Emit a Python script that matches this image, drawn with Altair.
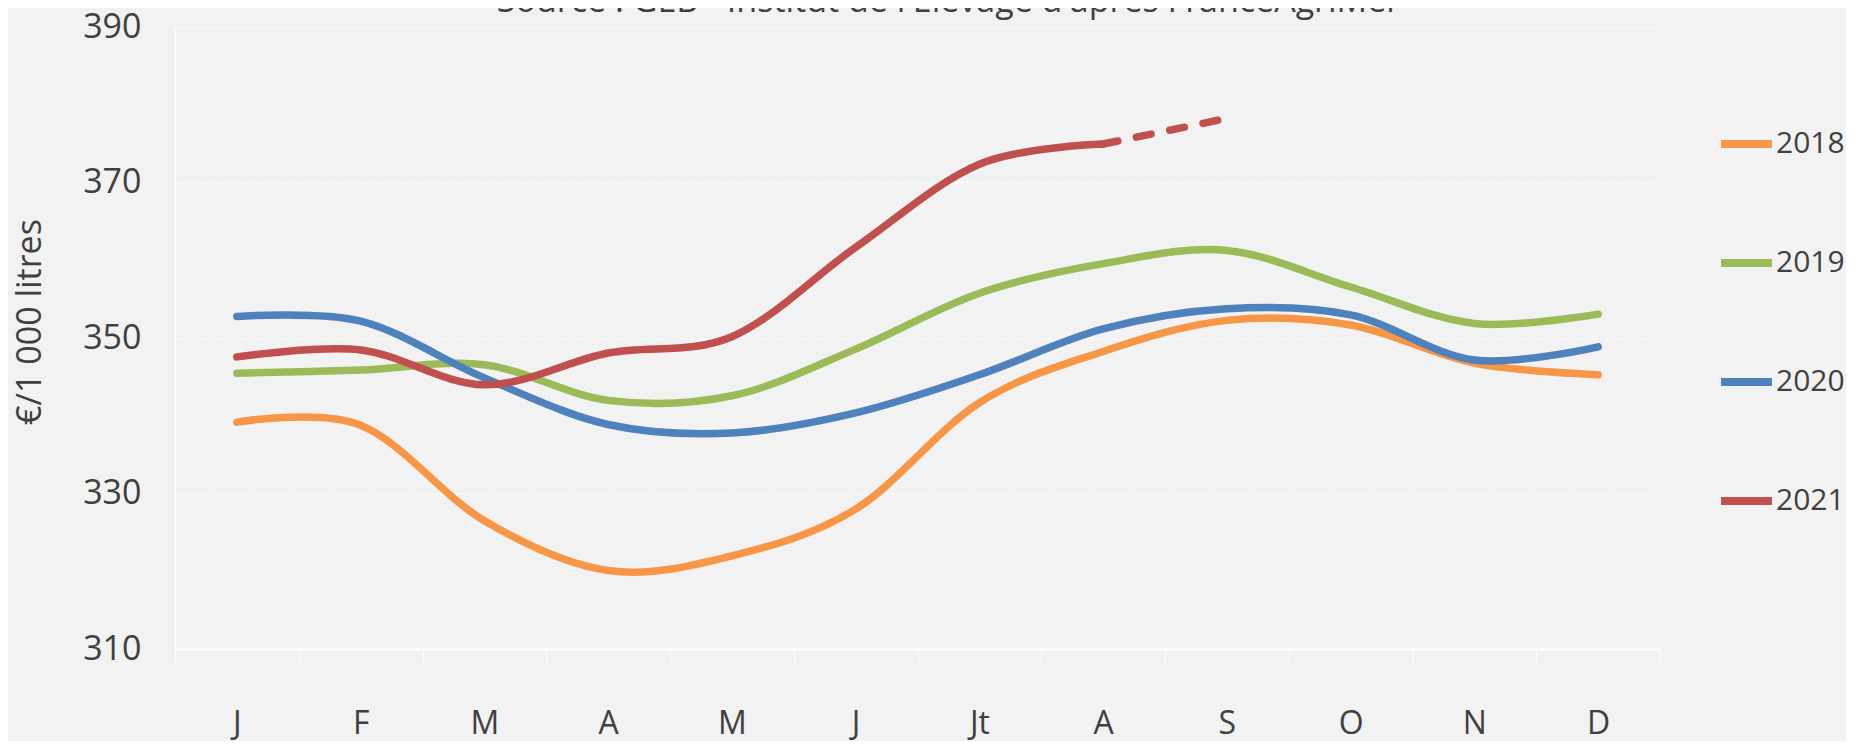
import altair as alt
import pandas as pd

# ---- data ----
months = ["janv", "févr", "mars", "avr", "mai", "juin", "juil", "août", "sept", "oct", "nov", "déc"]
month_labels = ["J", "F", "M", "A", "M", "J", "Jt", "A", "S", "O", "N", "D"]
years = ["2018", "2019", "2020", "2021"]
colors = ["#F79646", "#9BBB59", "#4F81BD", "#C0504D"]

v2018 = [339.2, 338.8, 326.5, 320.1, 322.0, 328.0, 341.7, 348.3, 352.3, 351.7, 346.8, 345.3]
v2019 = [345.5, 345.9, 346.6, 342.0, 342.6, 348.6, 355.8, 359.6, 361.3, 356.6, 351.9, 353.1]
v2020 = [352.8, 352.2, 344.9, 338.9, 337.8, 340.4, 345.3, 351.2, 353.8, 353.0, 347.2, 348.9]
v2021 = [347.6, 348.5, 344.0, 348.1, 350.2, 361.7, 372.4, 375.0]

est_months_2021 = ["août", "sept"]
est_2021 = [375.0, 378.3]

y_ticks = [310, 330, 350, 370, 390]

title_text = "Source : GEB - Institut de l'Elevage d'après FranceAgriMer"
y_title = "€/1 000 litres"

# ---- tables ----
rows = []
for yr, vals in zip(years, [v2018, v2019, v2020, v2021]):
    for m, v in zip(months, vals):
        rows.append({"mois": m, "annee": yr, "prix": v})
df = pd.DataFrame(rows)
df_est = pd.DataFrame({"mois": est_months_2021, "annee": ["2021"] * len(est_2021), "prix": est_2021})

label_expr = (
    "[" + ",".join("'%s'" % l for l in month_labels) + "]"
    + "[indexof([" + ",".join("'%s'" % m for m in months) + "], datum.value)]"
)

FONT = "Open Sans"
TXT = "#404040"

x_enc = alt.X(
    "mois:N",
    sort=months,
    bandPosition=0.5,
    scale=alt.Scale(type="band", domain=months, paddingInner=0, paddingOuter=0),
    axis=alt.Axis(
        title=None,
        labelExpr=label_expr,
        labelAngle=0,
        tickBand="extent",
        grid=False,
        domainColor="white",
        domainWidth=2,
        ticks=True,
        tickColor="white",
        tickWidth=1,
        tickSize=13,
        labelFont=FONT,
        labelFontSize=32,
        labelColor=TXT,
        labelBaseline="middle",
        labelPadding=61,
    ),
)

y_enc = alt.Y(
    "prix:Q",
    scale=alt.Scale(domain=[310, 390], zero=False, nice=False),
    axis=alt.Axis(
        values=y_ticks,
        title=y_title,
        grid=True,
        gridColor="white",
        gridDash=[3, 2],
        gridWidth=1,
        domain=True,
        domainColor="white",
        domainWidth=1,
        ticks=False,
        labelFont=FONT,
        labelFontSize=34,
        labelColor=TXT,
        labelPadding=34,
        titleFont=FONT,
        titleFontSize=34,
        titleFontWeight="normal",
        titleColor=TXT,
        titleAngle=270,
        titleX=-145,
        titleY=294,
        titleAlign="center",
        titleBaseline="middle",
    ),
)

color_scale = alt.Scale(domain=years, range=colors)

main = alt.Chart(df).mark_line(
    interpolate="cardinal", strokeWidth=7.5, strokeCap="round", strokeJoin="round"
).encode(
    x=x_enc,
    y=y_enc,
    color=alt.Color(
        "annee:N",
        scale=color_scale,
        legend=alt.Legend(
            title=None,
            orient="none",
            legendX=1542,
            legendY=87,
            symbolType="stroke",
            symbolSize=2601,
            symbolStrokeWidth=8,
            labelFont=FONT,
            labelFontSize=30,
            labelColor=TXT,
            labelOffset=0,
            rowPadding=73,
            padding=0,
        ),
    ),
    detail="annee:N",
)

dashed = alt.Chart(df_est).mark_line(
    strokeWidth=7.5, strokeCap="round", strokeDash=[15, 19]
).encode(
    x=alt.X("mois:N", sort=months, bandPosition=0.5),
    y=alt.Y("prix:Q"),
    color=alt.Color("annee:N", scale=color_scale),
)

chart = (
    alt.layer(main, dashed)
    .properties(
        width=1485,
        height=621.5,
        title=alt.TitleParams(
            title_text,
            font=FONT,
            fontSize=34,
            fontWeight="normal",
            color=TXT,
            anchor="middle",
            dx=31,
            dy=35,
            offset=0,
            baseline="alphabetic",
        ),
    )
    .configure(
        background="#F2F2F2",
        padding={"left": 167, "top": 19.5, "right": 186, "bottom": 92},
        autosize=alt.AutoSizeParams(type="none"),
    )
    .configure_view(stroke=None)
)

chart.save("out.html", embed_options={"renderer": "svg", "actions": False})
